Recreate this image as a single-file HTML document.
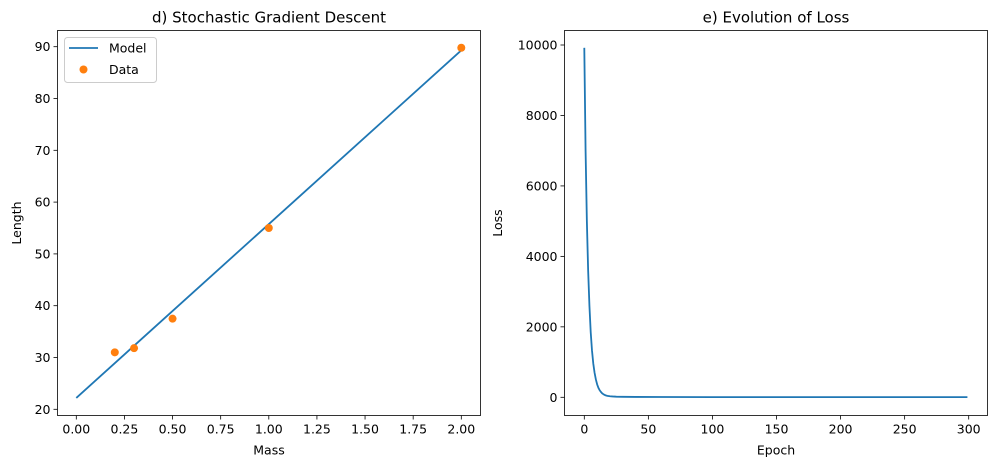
<!DOCTYPE html>
<html><head><meta charset="utf-8"><style>
body{margin:0;background:#fff;}
svg{display:block;font-family:"DejaVu Sans","Liberation Sans",sans-serif;}
</style></head><body>
<svg id="c" width="997" height="468" xmlns="http://www.w3.org/2000/svg"></svg>
<script>
const massData=[0.2,0.3,0.5,1.0,2.0];
const lengthData=[31.0,31.8,37.5,55.0,89.8];
const modelX=[0,2];
const modelY=[22.2,89.3];
const leftXTicks=[0,0.25,0.5,0.75,1.0,1.25,1.5,1.75,2.0];
const leftXLabels=["0.00","0.25","0.50","0.75","1.00","1.25","1.50","1.75","2.00"];
const leftYTicks=[20,30,40,50,60,70,80,90];
const epochs=[0,1,2,3,4,5,6,7,8,9,10,11,12,13,14,15,16,17,18,20,22,25,30,40,60,100,150,200,250,299];
const lossVals=[9920,7000,5000,3600,2600,1850,1330,960,700,510,370,270,200,150,110,85,65,50,40,30,24,18,14,10,8,6,5,4,4,4];
const rightXTicks=[0,50,100,150,200,250,300];
const rightYTicks=[0,2000,4000,6000,8000,10000];

const svg=document.getElementById('c');
const NS='http://www.w3.org/2000/svg';
function mk(tag,attrs,parent,text){const e=document.createElementNS(NS,tag);for(const k in attrs)e.setAttribute(k,attrs[k]);if(text!==undefined)e.textContent=text;(parent||svg).appendChild(e);return e;}

const L={x0:57.5,x1:480.5,y0:30.5,y1:415.5};
const lx=v=>76.3+v*192.5;
const ly=v=>409.3-(v-20)*(362.6/70);
const R={x0:564.5,x1:987.5,y0:30.5,y1:415.5};
const rx=v=>584.3+v*(384.4/300);
const ry=v=>397.3-v*(352.3/10000);

function axes(A,name,title,xlabel,ylabel,xt,xl,yt,yl,fx,fy,ylabX){
  const g=mk('g',{});
  
  
  xt.forEach((t,i)=>{
    const x=fx(t);
    const tk=mk('line',{x1:x,x2:x,y1:A.y1,y2:A.y1+4,stroke:'#000','stroke-width':0.8},g);
    
    const tx=mk('text',{x:x,y:A.y1+18,'font-size':12.5,'text-anchor':'middle',fill:'#000'},g,xl[i]);
    
  });
  yt.forEach((t,i)=>{
    const y=fy(t);
    const tk=mk('line',{x1:A.x0-4,x2:A.x0,y1:y,y2:y,stroke:'#000','stroke-width':0.8},g);
    
    const tx=mk('text',{x:A.x0-7,y:y+4.5,'font-size':12.5,'text-anchor':'end',fill:'#000'},g,yl[i]);
    
  });
  const tt=mk('text',{x:(A.x0+A.x1)/2,y:A.y0-8,'font-size':15,'text-anchor':'middle'},g,title);
  
  const xa=mk('text',{x:(A.x0+A.x1)/2,y:A.y1+39,'font-size':12.5,'text-anchor':'middle'},g,xlabel);
  
  const cy=(A.y0+A.y1)/2;
  const ya=mk('text',{x:ylabX,y:cy,'font-size':12.5,'text-anchor':'middle',transform:`rotate(-90 ${ylabX} ${cy})`},g,ylabel);
  
  return g;
}
function frame(A){
  const f=mk('rect',{x:A.x0,y:A.y0,width:A.x1-A.x0,height:A.y1-A.y0,fill:'none',stroke:'#000','stroke-width':0.8});
  
}

axes(L,'left-axes','d) Stochastic Gradient Descent','Mass','Length',leftXTicks,leftXLabels,leftYTicks,leftYTicks.map(String),lx,ly,21);
axes(R,'right-axes','e) Evolution of Loss','Epoch','Loss',rightXTicks,rightXTicks.map(String),rightYTicks,rightYTicks.map(String),rx,ry,502);

const ml=mk('polyline',{points:modelX.map((v,i)=>lx(v)+','+ly(modelY[i])).join(' '),fill:'none',stroke:'#1f77b4','stroke-width':1.8});

massData.forEach((m,i)=>{
  const c=mk('circle',{cx:lx(m),cy:ly(lengthData[i]),r:4,fill:'#ff7f0e'});
  
});
const ll=mk('polyline',{points:epochs.map((v,i)=>rx(v)+','+ry(lossVals[i])).join(' '),fill:'none',stroke:'#1f77b4','stroke-width':1.8,'stroke-linejoin':'round'});


frame(L);frame(R);

const lg=mk('g',{});

mk('rect',{x:64.5,y:37.5,width:92,height:45,rx:3,fill:'#fff','fill-opacity':0.8,stroke:'#ccc','stroke-width':1},lg);
const le1=mk('line',{x1:69,x2:98,y1:48,y2:48,stroke:'#1f77b4','stroke-width':1.8},lg);

mk('text',{x:109,y:52.5,'font-size':12.5},lg,'Model');
const le2=mk('circle',{cx:83.5,cy:69.5,r:4,fill:'#ff7f0e'},lg);

mk('text',{x:109,y:74,'font-size':12.5},lg,'Data');
</script>
</body></html>
